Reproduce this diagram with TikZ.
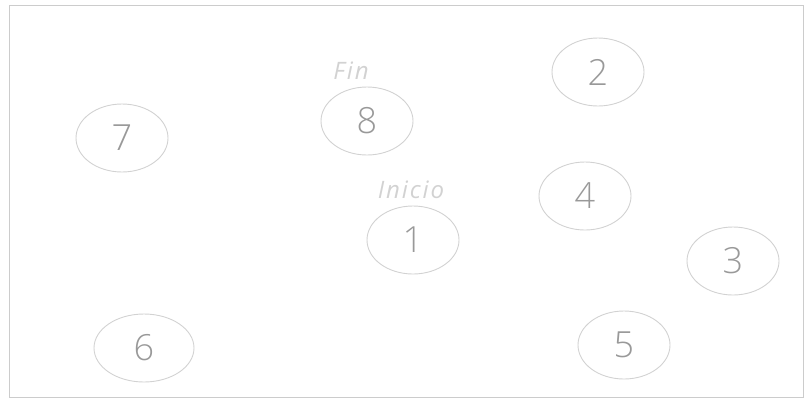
\documentclass[tikz,border=0pt]{standalone}
\usepackage{fontspec}
\setmainfont{Open Sans}
\usepackage{tikz}
\usetikzlibrary{shapes.geometric, positioning}

\newfontfamily\digitfont{Open Sans Light}[Scale=1]
\newcommand{\stopfont}{\digitfont\fontsize{36}{36}\selectfont}
\newcommand{\tagfont}{\itshape\addfontfeature{LetterSpace=8}\fontsize{24}{24}\selectfont}

\tikzset{
  stopnode/.style={ellipse, draw=gray!35, line width=0.9pt, inner sep=0pt,
    minimum width=92pt, minimum height=68pt, text=gray!80, font=\stopfont},
  tagnode/.style={text=gray!35, font=\tagfont, inner sep=0pt}
}

\begin{document}
\begin{tikzpicture}[x=1pt, y=-1pt]
  \useasboundingbox (0,0) rectangle (806,400);
  % frame
  \draw[gray!40, line width=0.9pt] (9,5) rectangle (803,397);
  % stops
  \node[stopnode] (n1) at (413,240) {1};
  \node[stopnode] (n2) at (598,72) {2};
  \node[stopnode] (n3) at (733,261) {3};
  \node[stopnode] (n4) at (585,196) {4};
  \node[stopnode] (n5) at (624,345) {5};
  \node[stopnode, minimum width=100pt] (n6) at (144,348) {6};
  \node[stopnode] (n7) at (122,138) {7};
  \node[stopnode] (n8) at (367,121) {8};
  % labels
  \node[tagnode] (fin) at (351,71) {Fin};
  \node[tagnode] (inicio) at (411,190) {Inicio};
\end{tikzpicture}
\end{document}
